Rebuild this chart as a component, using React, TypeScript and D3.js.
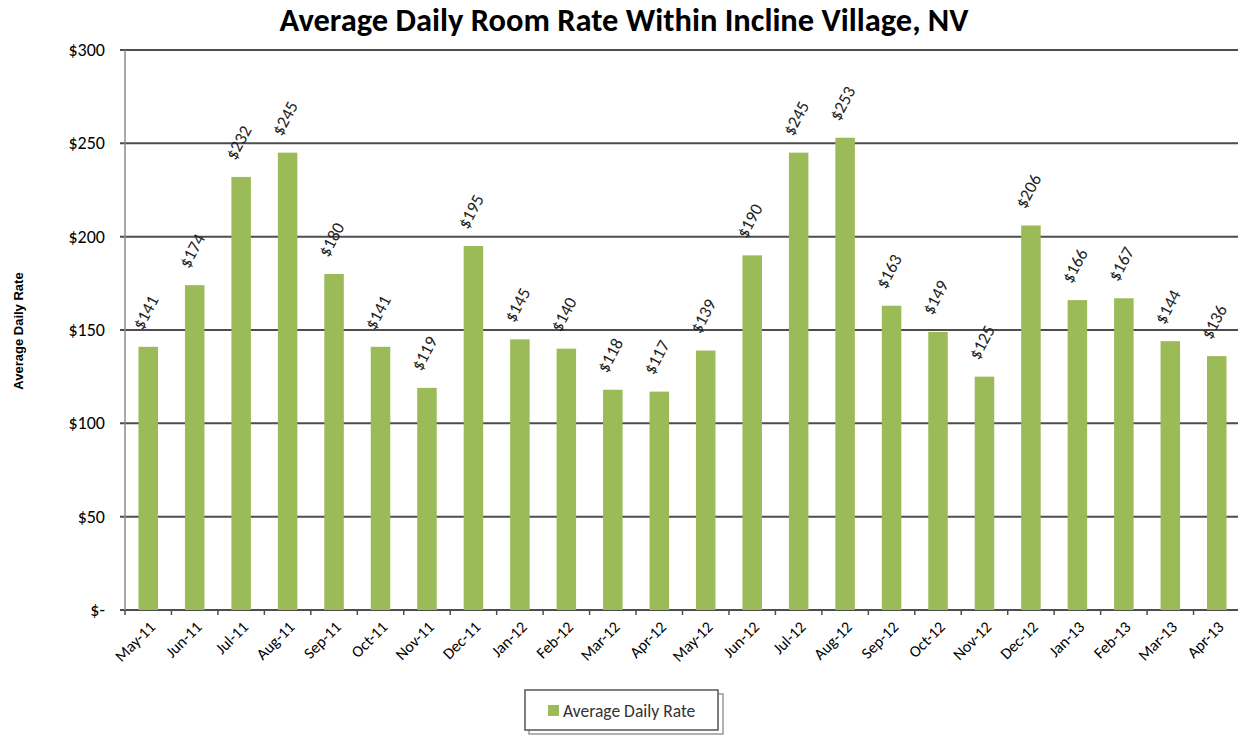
import React from "react";
import * as d3 from "d3";

const categories = ["May-11","Jun-11","Jul-11","Aug-11","Sep-11","Oct-11","Nov-11","Dec-11","Jan-12","Feb-12","Mar-12","Apr-12","May-12","Jun-12","Jul-12","Aug-12","Sep-12","Oct-12","Nov-12","Dec-12","Jan-13","Feb-13","Mar-13","Apr-13"];
const values = [141,174,232,245,180,141,119,195,145,140,118,117,139,190,245,253,163,149,125,206,166,167,144,136];
const yTicks = [0,50,100,150,200,250,300];
const yTickLabels = ["$-","$50","$100","$150","$200","$250","$300"];

const W = 1238, H = 740;
const left = 125, right = 1240, top = 50, bottom = 610;
const font = "Calibri, Carlito, 'Open Sans', sans-serif";

export default function App() {
  const x = d3.scaleBand<string>().domain(categories).range([left, right]).paddingInner(0.58).paddingOuter(0.29);
  const y = d3.scaleLinear().domain([0, 300]).range([bottom, top]);
  const step = x.step();
  const bandStart = (i: number) => left + i * step;
  return (
    <svg width={W} height={H} style={{ position: "absolute", left: 0, top: 0 }}>
      <rect width={W} height={H} fill="#fff" />
      <text x={624} y={31} textAnchor="middle" fontFamily={font} fontWeight="bold" fontSize={32.5} fill="#000">Average Daily Room Rate Within Incline Village, NV</text>
      {yTicks.map((t, i) => (
        <g key={t}>
          <line x1={left - 5} x2={W} y1={y(t)} y2={y(t)} stroke="#4d4d4d" strokeWidth={2} />
          <text x={105} y={y(t) + 6} textAnchor="end" fontFamily={font} fontSize={18} fill="#000">{yTickLabels[i]}</text>
        </g>
      ))}
      <line x1={left} x2={left} y1={top} y2={bottom} stroke="#8c8c8c" strokeWidth={1.5} />
      {categories.map((c, i) => (
        <line key={"t" + c} x1={bandStart(i)} x2={bandStart(i)} y1={bottom} y2={bottom + 5} stroke="#4d4d4d" strokeWidth={1.5} />
      ))}
      {categories.map((c, i) => (
        <rect key={c} x={x(c)} y={y(values[i])} width={x.bandwidth()} height={bottom - y(values[i])} fill="#9bbb59" />
      ))}
      {categories.map((c, i) => {
        const bx = x(c) as number;
        const cy = y(values[i]) - 16;
        return (
          <text key={"v" + c} transform={`translate(${bx + 4},${cy}) rotate(-62)`} fontFamily={font} fontSize={17.5} fill="#222">${values[i]}</text>
        );
      })}
      {categories.map((c, i) => {
        const cx = (x(c) as number) + x.bandwidth() / 2;
        return (
          <text key={"x" + c} transform={`translate(${cx + 8},${bottom + 18}) rotate(-45)`} textAnchor="end" fontFamily={font} fontSize={16} fill="#000">{c}</text>
        );
      })}
      <text transform={`translate(23,331) rotate(-90)`} textAnchor="middle" fontFamily="'Liberation Sans', Arial, sans-serif" fontWeight="bold" fontSize={13} fill="#000">Average Daily Rate</text>
      <rect x={529} y={694} width={194} height={40} fill="#fff" stroke="#999" strokeWidth={1.5} />
      <rect x={525} y={690} width={193} height={40} fill="#fff" stroke="#555" strokeWidth={1.5} />
      <rect x={548} y={705} width={11} height={11} fill="#9bbb59" />
      <text x={563} y={717} fontFamily={font} fontSize={17.5} fill="#333">Average Daily Rate</text>
    </svg>
  );
}
